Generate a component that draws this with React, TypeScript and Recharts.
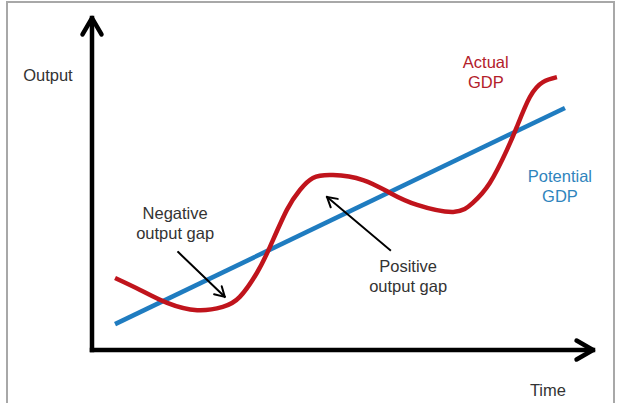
import React from 'react';
import { ComposedChart, Line, XAxis, YAxis, ReferenceLine, ReferenceDot } from 'recharts';

// time / output, both on a 0-100 scale
const actualGdp = [
    { x: 4.6, y: 21.7 },
    { x: 9.6, y: 18.1 },
    { x: 15.0, y: 14.2 },
    { x: 21.0, y: 12.0 },
    { x: 26.1, y: 13.0 },
    { x: 29.5, y: 16.0 },
    { x: 32.9, y: 23.2 },
    { x: 35.5, y: 31.0 },
    { x: 38.9, y: 42.2 },
    { x: 41.5, y: 48.2 },
    { x: 44.1, y: 51.8 },
    { x: 48.1, y: 52.7 },
    { x: 54.1, y: 51.2 },
    { x: 59.5, y: 47.3 },
    { x: 64.9, y: 43.7 },
    { x: 72.1, y: 41.6 },
    { x: 76.0, y: 44.3 },
    { x: 79.4, y: 50.3 },
    { x: 82.8, y: 60.2 },
    { x: 84.8, y: 67.2 },
    { x: 87.4, y: 76.2 },
    { x: 90.0, y: 80.7 },
    { x: 92.8, y: 82.2 },
];

const potentialGdp = [
    { x: 4.6, y: 7.8 },
    { x: 94.4, y: 72.9 },
];

// annotation arrows: tail -> tip
const gapArrows = [
    { from: { x: 17.2, y: 29.5 }, to: { x: 26.5, y: 16.0 } },
    { from: { x: 59.5, y: 30.1 }, to: { x: 46.9, y: 46.1 } },
];

const labels = [
    { x: -8.8, y: 82.8, lines: ['Output'], color: '#333333' },
    { x: 91.0, y: -12.0, lines: ['Time'], color: '#333333' },
    { x: 78.6, y: 83.7, lines: ['Actual', 'GDP'], color: '#b3202a' },
    { x: 93.4, y: 49.4, lines: ['Potential', 'GDP'], color: '#2f84bd' },
    { x: 16.6, y: 38.1, lines: ['Negative', 'output gap'], color: '#333333' },
    { x: 63.1, y: 22.1, lines: ['Positive', 'output gap'], color: '#333333' },
];

function Arrow(props: any) {
    const { x1, y1, x2, y2, head, width } = props;
    const ang = Math.atan2(y2 - y1, x2 - x1);
    const spread = Math.PI / 6;
    const a1x = x2 - head * Math.cos(ang - spread);
    const a1y = y2 - head * Math.sin(ang - spread);
    const a2x = x2 - head * Math.cos(ang + spread);
    const a2y = y2 - head * Math.sin(ang + spread);
    return (
        <g stroke="#000" strokeWidth={width} fill="none" strokeLinecap="round" strokeLinejoin="round">
            <line x1={x1} y1={y1} x2={x2} y2={y2} strokeLinecap="square" />
            <polyline points={`${a1x},${a1y} ${x2},${y2} ${a2x},${a2y}`} />
        </g>
    );
}

function TextBlock(props: any) {
    const { cx, cy, lines, color } = props;
    const lh = 20;
    const top = cy - ((lines.length - 1) * lh) / 2;
    return (
        <text x={cx} textAnchor="middle" fill={color} fontSize={16.5} fontFamily="Liberation Sans, Arial, sans-serif">
            {lines.map((l: string, i: number) => (
                <tspan key={i} x={cx} y={top + i * lh} dy="0.35em">{l}</tspan>
            ))}
        </text>
    );
}

export default function App() {
    return (
        <div style={{ position: 'absolute', left: 0, top: 0, width: 620, height: 403, overflow: 'hidden', background: '#fff' }}>
            <div style={{ position: 'absolute', left: 6, top: 1, width: 605, height: 430, border: '2px solid #a8a8a8' }} />
            <div style={{ position: 'absolute', left: 0, top: 0 }}>
                <ComposedChart width={620} height={403} margin={{ top: 18, right: 27, bottom: 53, left: 92 }}>
                    <XAxis type="number" dataKey="x" domain={[0, 100]} hide />
                    <YAxis type="number" dataKey="y" domain={[0, 100]} hide />

                    <Line data={potentialGdp} dataKey="y" type="linear" stroke="#1f7cc0" strokeWidth={4.5} dot={false} isAnimationActive={false} />
                    <Line data={actualGdp} dataKey="y" type="natural" stroke="#c0141c" strokeWidth={4.5} dot={false} isAnimationActive={false} />

                    {/* axes with open arrowheads */}
                    <ReferenceLine segment={[{ x: 0, y: 0 }, { x: 0, y: 100 }]} ifOverflow="visible"
                        shape={(p: any) => <Arrow {...p} head={19} width={4.5} />} />
                    <ReferenceLine segment={[{ x: 0, y: 0 }, { x: 100, y: 0 }]} ifOverflow="visible"
                        shape={(p: any) => <Arrow {...p} head={19} width={4.5} />} />

                    {gapArrows.map((a, i) => (
                        <ReferenceLine key={`arr-${i}`} segment={[a.from, a.to]} ifOverflow="visible"
                            shape={(p: any) => <Arrow {...p} head={11} width={2} />} />
                    ))}

                    {labels.map((l, i) => (
                        <ReferenceDot key={`lbl-${i}`} x={l.x} y={l.y} r={0} ifOverflow="visible"
                            shape={(p: any) => <TextBlock {...p} lines={l.lines} color={l.color} />} />
                    ))}
                </ComposedChart>
            </div>
        </div>
    );
}
